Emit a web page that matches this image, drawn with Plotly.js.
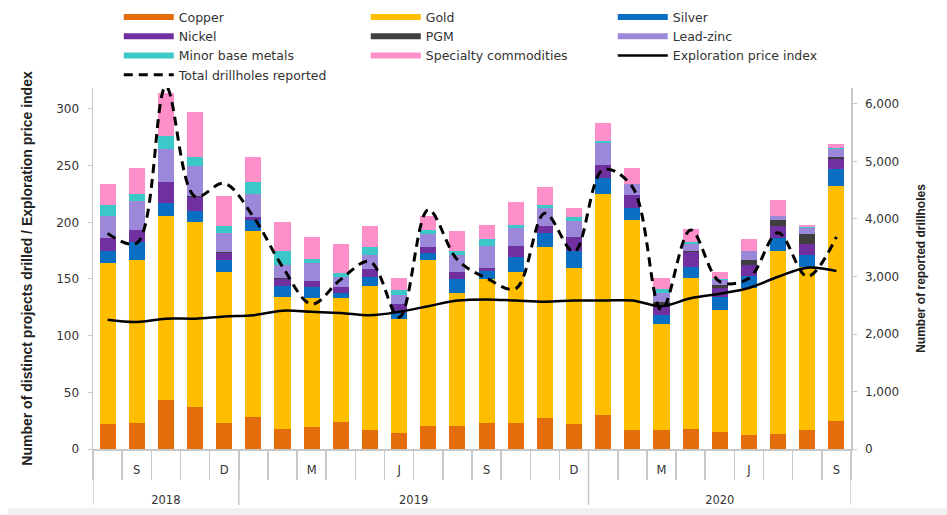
<!DOCTYPE html>
<html>
<head>
<meta charset="utf-8">
<script src="https://cdn.plot.ly/plotly-3.0.1.min.js"></script>
<style>
  html, body { margin: 0; padding: 0; background: #ffffff; }
  #chart { width: 947px; height: 515px; position: relative; }
  #footer { position: absolute; left: 8px; top: 508px; width: 939px; height: 7px; background: #f1f1f1; }
</style>
</head>
<body>
<div id="chart"></div>
<div id="footer"></div>
<script>
// ---- Data ----
const years = ['2018','2018','2018','2018','2018',
  '2019','2019','2019','2019','2019','2019','2019','2019','2019','2019','2019','2019',
  '2020','2020','2020','2020','2020','2020','2020','2020','2020'];
const monthLabels = ['', 'S', '', '', 'D',
  '', '', 'M', '', '', 'J', '', '', 'S', '', '', 'D',
  '', '', 'M', '', '', 'J', '', '', 'S'];

const copper    = [22, 23, 43, 37, 23, 28, 18, 19, 24, 17, 14, 20, 20, 23, 23, 27, 22, 30, 17, 17, 18, 15, 12, 13, 17, 25];
const gold      = [142, 144, 163, 163, 133, 164, 116, 114, 109, 127, 101, 147, 118, 127, 133, 151, 138, 195, 185, 93, 133, 108, 130, 162, 144, 207];
const silver    = [11, 16, 11, 10, 11, 10, 10, 10, 5, 8, 5, 6, 12, 7, 13, 13, 15, 14, 11, 8, 10, 11, 11, 11, 10, 15];
const nickel    = [11, 10, 19, 12, 6, 3, 6, 5, 5, 7, 8, 5, 6, 3, 10, 6, 12, 12, 11, 7, 13, 8, 9, 11, 10, 9];
const pgm       = [0, 0, 0, 1, 1, 0, 1, 0, 0, 0, 0, 0, 0, 0, 0, 0, 0, 0, 0, 5, 1, 3, 5, 5, 9, 2];
const leadZinc  = [20, 26, 29, 27, 17, 20, 11, 16, 9, 12, 8, 12, 15, 19, 16, 16, 14, 19, 10, 8, 6, 4, 8, 4, 5, 7];
const minorBase = [9, 6, 11, 8, 6, 11, 13, 4, 3, 7, 4, 3, 4, 6, 3, 2, 4, 2, 0, 3, 2, 1, 0, 0, 1, 1];
const specialty = [19, 23, 38, 39, 26, 22, 25, 19, 26, 19, 11, 13, 17, 13, 20, 16, 8, 16, 14, 10, 11, 6, 10, 14, 2, 3];

const priceIndex = [114, 112, 115, 115, 117, 118, 122, 121, 120, 118, 121, 126, 131, 132, 131, 130, 131, 131, 131, 126, 133, 137, 142, 152, 160, 157];
const drillholes = [3750, 3580, 6300, 4390, 4620, 4040, 3170, 2520, 2950, 3260, 2290, 4160, 3290, 2970, 2790, 4100, 3430, 4860, 4560, 2420, 3810, 2910, 2970, 3760, 3000, 3690];

// ---- x positions: one slot per month ----
const xPos = monthLabels.map((_, i) => i);

// tick labels: month letters + year labels (two lines lower, centred on each year)
const tickVals = [], tickText = [];
monthLabels.forEach((m, i) => { if (m !== '') { tickVals.push(i); tickText.push(m); } });
const yearList = [...new Set(years)];
const yearBounds = [];
yearList.forEach(yr => {
  const idx = years.map((y, i) => y === yr ? i : -1).filter(i => i >= 0);
  const first = idx[0], last = idx[idx.length - 1];
  tickVals.push((first + last) / 2);
  tickText.push(' <br> <br>' + yr);
  yearBounds.push(first - 0.5);
  if (yr === yearList[yearList.length - 1]) yearBounds.push(last + 0.5);
});
const monthBounds = xPos.map(i => i - 0.5).concat([xPos.length - 0.5]);

const series = [
  {name: 'Copper', values: copper, color: '#e46c0a'},
  {name: 'Gold', values: gold, color: '#ffbf00'},
  {name: 'Silver', values: silver, color: '#0a6fc2'},
  {name: 'Nickel', values: nickel, color: '#7030a0'},
  {name: 'PGM', values: pgm, color: '#3f3f3f'},
  {name: 'Lead-zinc', values: leadZinc, color: '#9b88d8'},
  {name: 'Minor base metals', values: minorBase, color: '#3cc8c8'},
  {name: 'Specialty commodities', values: specialty, color: '#ff8fc8'}
];

const traces = [];
series.forEach(s => {
  traces.push({
    type: 'bar', x: xPos, y: s.values, name: s.name,
    marker: {color: s.color, line: {width: 0}},
    showlegend: false
  });
});
// legend entries drawn as thick lines, like the reference
series.forEach((s, k) => {
  traces.push({
    type: 'scatter', mode: 'lines', x: [null], y: [null], name: s.name,
    line: {color: s.color, width: 6}, legendrank: k + 1
  });
});
traces.push({
  type: 'scatter', mode: 'lines', x: xPos, y: priceIndex, name: 'Exploration price index',
  line: {color: '#000000', width: 2.5, shape: 'spline', smoothing: 1}, legendrank: 9
});
traces.push({
  type: 'scatter', mode: 'lines', x: xPos, y: drillholes, name: 'Total drillholes reported', yaxis: 'y2',
  line: {color: '#000000', width: 3, dash: '9px,6px', shape: 'spline', smoothing: 1}, legendrank: 10
});

const axisGrey = '#c8c8c8';
const shapes = yearBounds.map(b => ({
  type: 'line', xref: 'x', yref: 'paper', x0: b, x1: b, y0: 0, y1: -0.155,
  line: {color: axisGrey, width: 1.5}
}));

const fontFam = '"DejaVu Sans", Verdana, sans-serif';
const titleFam = '"Liberation Sans", Arial, sans-serif';
const layout = {
  width: 947, height: 515,
  margin: {l: 93, r: 96, t: 88, b: 66, autoexpand: false},
  paper_bgcolor: '#ffffff', plot_bgcolor: '#ffffff',
  font: {family: fontFam, size: 11.5, color: '#333333'},
  barmode: 'stack', bargap: 0.45,
  showlegend: true,
  legend: {
    orientation: 'h', x: 0.034, xanchor: 'left', y: 1.237, yanchor: 'top',
    entrywidth: 182, itemwidth: 50, font: {family: fontFam, size: 12.5, color: '#333333'},
    traceorder: 'normal', bgcolor: 'rgba(0,0,0,0)'
  },
  xaxis: {
    type: 'linear', range: [-0.5, xPos.length - 0.5],
    showline: true, linecolor: axisGrey, linewidth: 1.5,
    tickmode: 'array', tickvals: tickVals, ticktext: tickText, tickangle: 0,
    ticks: '', ticklabelstandoff: 10,
    minor: {tickmode: 'array', tickvals: monthBounds, ticks: 'outside', ticklen: 29, tickcolor: axisGrey, tickwidth: 1.5, showgrid: false},
    showgrid: false, zeroline: false, tickfont: {size: 11.5, color: '#333333'}
  },
  yaxis: {
    range: [0, 318.5], tickvals: [0, 50, 100, 150, 200, 250, 300],
    showline: true, linecolor: axisGrey, linewidth: 1.5, ticks: 'outside', ticklen: 4, tickcolor: axisGrey,
    showgrid: false, zeroline: false, ticklabelstandoff: 6, tickfont: {size: 12, color: '#333333'},
    title: {text: 'Number of distinct projects drilled / Exploration price index', font: {family: titleFam, size: 14, color: '#222222', weight: 'bold'}, standoff: 20}
  },
  yaxis2: {
    overlaying: 'y', side: 'right', range: [0, 6278], tickvals: [0, 1000, 2000, 3000, 4000, 5000, 6000],
    tickformat: ',d',
    showline: true, linecolor: axisGrey, linewidth: 1.5, ticks: 'outside', ticklen: 4, tickcolor: axisGrey,
    showgrid: false, zeroline: false, ticklabelstandoff: 6, tickfont: {size: 12, color: '#333333'},
    title: {text: 'Number of reported drillholes', font: {family: titleFam, size: 12, color: '#222222', weight: 'bold'}, standoff: 18}
  },
  shapes: shapes
};

Plotly.newPlot('chart', traces, layout, {displayModeBar: false, staticPlot: true});
</script>
</body>
</html>
